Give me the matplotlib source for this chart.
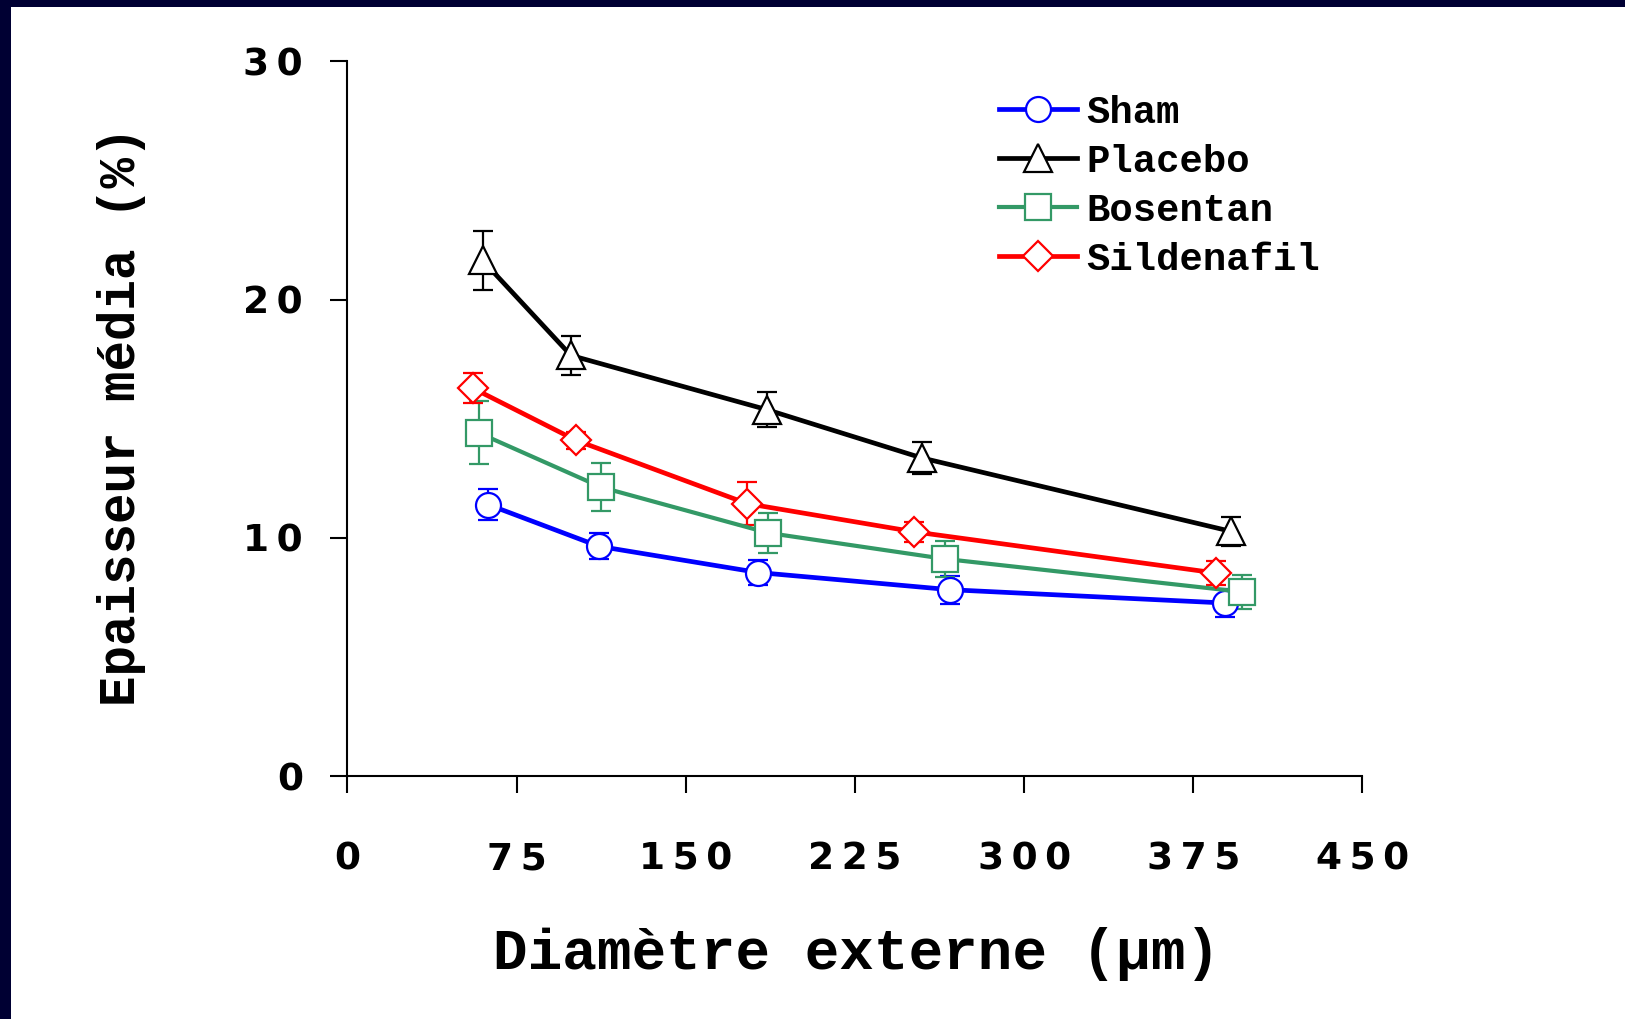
import matplotlib
matplotlib.use("Agg")
import matplotlib.pyplot as plt
from matplotlib.patches import Rectangle
from matplotlib.ticker import FuncFormatter

# Media thickness vs external vessel diameter, mean +/- SEM per group
diam_sham = [62.4, 111.5, 182.1, 267.1, 389.0]
media_sham = [11.40, 9.65, 8.55, 7.83, 7.27]
err_sham = [0.64, 0.55, 0.51, 0.59, 0.60]

diam_placebo = [59.9, 99.1, 186.1, 254.6, 391.6]
media_placebo = [21.65, 17.66, 15.38, 13.36, 10.28]
err_placebo = [1.23, 0.83, 0.73, 0.68, 0.62]

diam_bosentan = [58.2, 112.5, 186.6, 264.9, 396.6]
media_bosentan = [14.41, 12.13, 10.21, 9.12, 7.74]
err_bosentan = [1.32, 1.00, 0.83, 0.75, 0.70]

diam_sildenafil = [55.5, 101.3, 177.3, 251.2, 385.0]
media_sildenafil = [16.29, 14.10, 11.44, 10.26, 8.53]
err_sildenafil = [0.64, 0.35, 0.90, 0.42, 0.51]

x_ticks = [0, 75, 150, 225, 300, 375, 450]
y_ticks = [0, 10, 20, 30]

groups = [
    ("Sham", diam_sham, media_sham, err_sham, "#0000ff", "o", 18, 3.4),
    ("Placebo", diam_placebo, media_placebo, err_placebo, "#000000", "^", 20, 3.4),
    ("Bosentan", diam_bosentan, media_bosentan, err_bosentan, "#339966", "s", 18.5, 3.0),
    ("Sildenafil", diam_sildenafil, media_sildenafil, err_sildenafil, "#ff0000", "D", 15, 3.4),
]

fig = plt.figure(figsize=(16.25, 10.19), dpi=100)
fig.patch.set_facecolor("#000033")
fig.add_artist(Rectangle((11 / 1625, 0), 1, 1 - 7 / 1019, transform=fig.transFigure,
                         facecolor="white", edgecolor="none", zorder=-5))

ax = fig.add_axes([0.2138, 0.2382, 0.6246, 0.7016])
ax.set_facecolor("white")

handles = []
for name, xs, ys, es, color, marker, ms, lw in groups:
    ax.errorbar(xs, ys, yerr=es, fmt="none", ecolor=color, elinewidth=1.6,
                capsize=7, capthick=1.6, zorder=2)
    line, = ax.plot(xs, ys, color=color, lw=lw, marker=marker, markersize=ms,
                    markerfacecolor="white", markeredgecolor=color,
                    markeredgewidth=1.6, label=name, zorder=3)
    handles.append(line)

ax.set_xlim(0, 450)
ax.set_ylim(0, 30)
ax.set_xticks(x_ticks)
ax.set_yticks(y_ticks)

spaced = FuncFormatter(lambda v, pos: "\u2009".join(f"{v:g}"))
ax.xaxis.set_major_formatter(spaced)
ax.yaxis.set_major_formatter(spaced)

for side in ("top", "right"):
    ax.spines[side].set_visible(False)
for side in ("left", "bottom"):
    ax.spines[side].set_linewidth(1.5)

ax.tick_params(axis="both", direction="out", length=12, width=1.5,
               labelsize=27)
ax.tick_params(axis="x", pad=35)
ax.tick_params(axis="y", pad=20)
for lab in ax.get_xticklabels() + ax.get_yticklabels():
    lab.set_fontfamily("DejaVu Sans")
    lab.set_fontweight("bold")

ax.set_xlabel("Diamètre externe (µm)", fontsize=41.5, fontweight="bold",
              family="Liberation Mono")
ax.xaxis.label.set_va("center")
ax.xaxis.set_label_coords(0.502, -0.2485)

ax.set_ylabel("Epaisseur média (%)", fontsize=36.5, fontweight="bold",
              family="Liberation Mono")
ax.yaxis.label.set_va("center")
ax.yaxis.set_label_coords(-0.223, 0.503)

ax.legend(handles=handles, loc="upper left", bbox_to_anchor=(0.6148, 0.9067),
          bbox_transform=fig.transFigure, frameon=False, numpoints=1,
          borderpad=0, borderaxespad=0, labelspacing=0.33, handlelength=2.0,
          handletextpad=0.24,
          prop={"family": "Liberation Mono", "weight": "bold", "size": 28})

fig.savefig("out.png", dpi=100)
